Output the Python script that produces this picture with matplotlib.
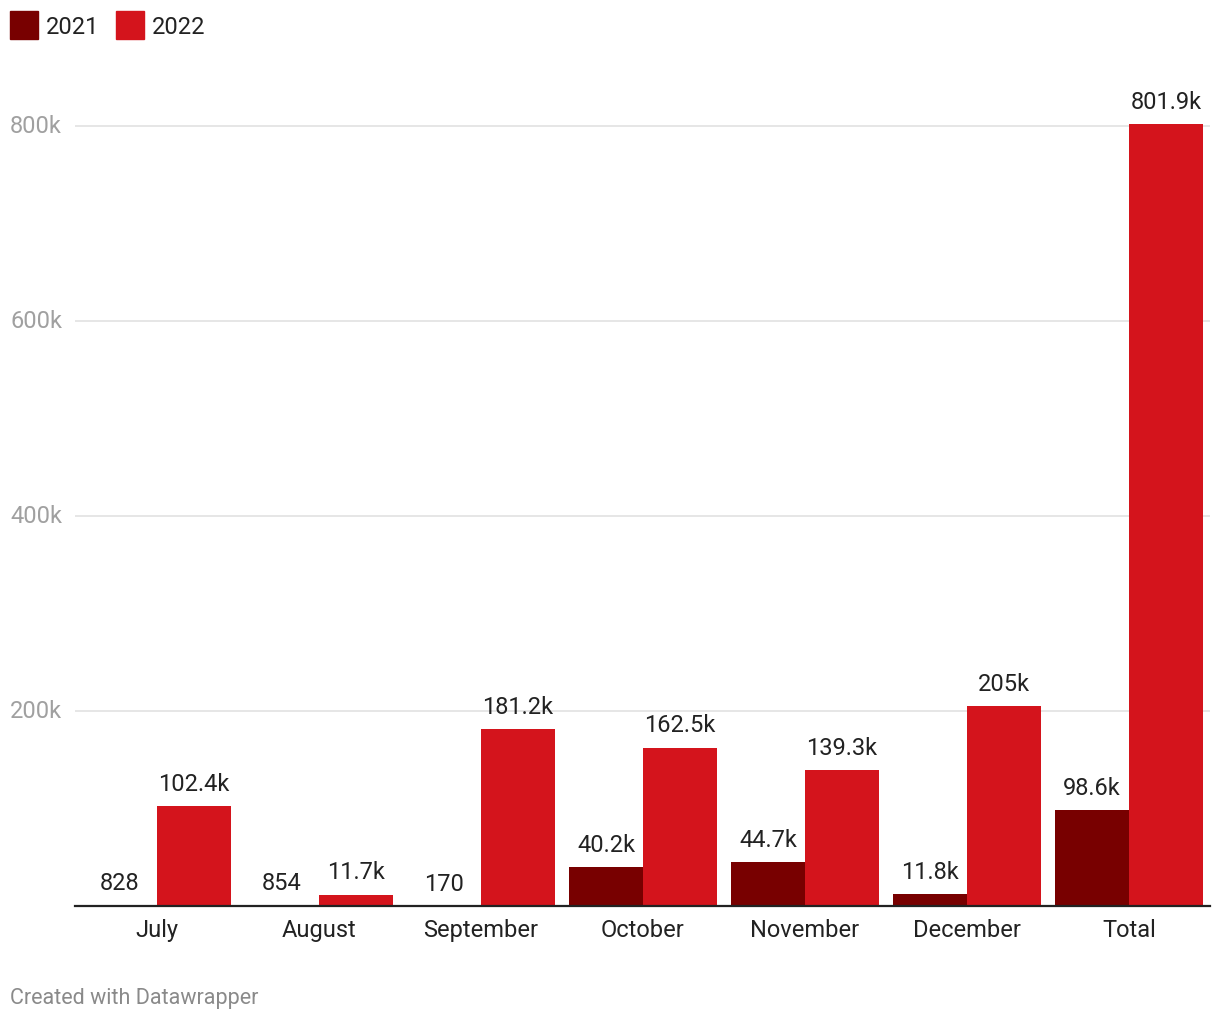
import numpy as np
import matplotlib.pyplot as plt
from matplotlib.transforms import blended_transform_factory

plt.rcParams['font.family'] = ['Roboto', 'DejaVu Sans']

CATEGORIES = ['July', 'August', 'September', 'October', 'November', 'December', 'Total']
VALUES_2021 = [828, 854, 170, 40200, 44700, 11800, 98600]
VALUES_2022 = [102400, 11700, 181200, 162500, 139300, 205000, 801900]
LABELS_2021 = ['828', '854', '170', '40.2k', '44.7k', '11.8k', '98.6k']
LABELS_2022 = ['102.4k', '11.7k', '181.2k', '162.5k', '139.3k', '205k', '801.9k']
Y_TICKS = [200000, 400000, 600000, 800000]
Y_TICK_LABELS = ['200k', '400k', '600k', '800k']

COLOR_2021 = '#780000'
COLOR_2022 = '#d4141c'
FS = 17

fig = plt.figure(figsize=(12.2, 10.2), dpi=100)
ax = fig.add_axes([75 / 1220, 113 / 1020, 1135 / 1220, 817 / 1020])

x = np.arange(len(CATEGORIES))
width = 74 / 162

bars1 = ax.bar(x - width / 2, VALUES_2021, width, color=COLOR_2021, zorder=3)
bars2 = ax.bar(x + width / 2, VALUES_2022, width, color=COLOR_2022, zorder=3)

for bars, labels in [(bars1, LABELS_2021), (bars2, LABELS_2022)]:
    for b, lab in zip(bars, labels):
        ax.annotate(lab, (b.get_x() + b.get_width() / 2, b.get_height()),
                    xytext=(0, 8), textcoords='offset points',
                    ha='center', va='bottom', fontsize=FS, color='#222222')

ax.set_xlim(-82 / 162, 1053 / 162)
ax.set_ylim(0, 800000 * 817 / 780)

# y ticks: grid lines, with labels drawn left-aligned at the figure edge
ax.set_yticks(Y_TICKS)
ax.set_yticklabels([])
ax.yaxis.grid(True, color='#e2e2e2', linewidth=1.2, zorder=0)
ax.tick_params(axis='y', length=0)
trans = blended_transform_factory(fig.transFigure, ax.transData)
for v, lab in zip(Y_TICKS, Y_TICK_LABELS):
    fig.text(10 / 1220, v, lab, transform=trans, fontsize=FS,
             color='#a0a0a0', ha='left', va='center')

ax.set_xticks(x)
ax.set_xticklabels(CATEGORIES)
ax.tick_params(axis='x', length=0, pad=9, labelsize=FS, labelcolor='#222222')

for side in ['top', 'right', 'left']:
    ax.spines[side].set_visible(False)
ax.spines['bottom'].set_color('#222222')
ax.spines['bottom'].set_linewidth(1.6)
ax.spines['bottom'].set_zorder(4)

# legend drawn by hand at the top left
for px, col, txt in [(10, COLOR_2021, '2021'), (116, COLOR_2022, '2022')]:
    fig.patches.append(plt.Rectangle((px / 1220, (1020 - 40) / 1020), 28 / 1220, 28 / 1020,
                                     transform=fig.transFigure, color=col, figure=fig))
    fig.text((px + 36) / 1220, (1020 - 27.5) / 1020, txt, fontsize=FS,
             color='#222222', va='center', ha='left')

fig.text(10 / 1220, (1020 - 999) / 1020, 'Created with Datawrapper', fontsize=15.5,
         color='#8a8a8a', va='center', ha='left')

fig.savefig('out.png', dpi=100)
